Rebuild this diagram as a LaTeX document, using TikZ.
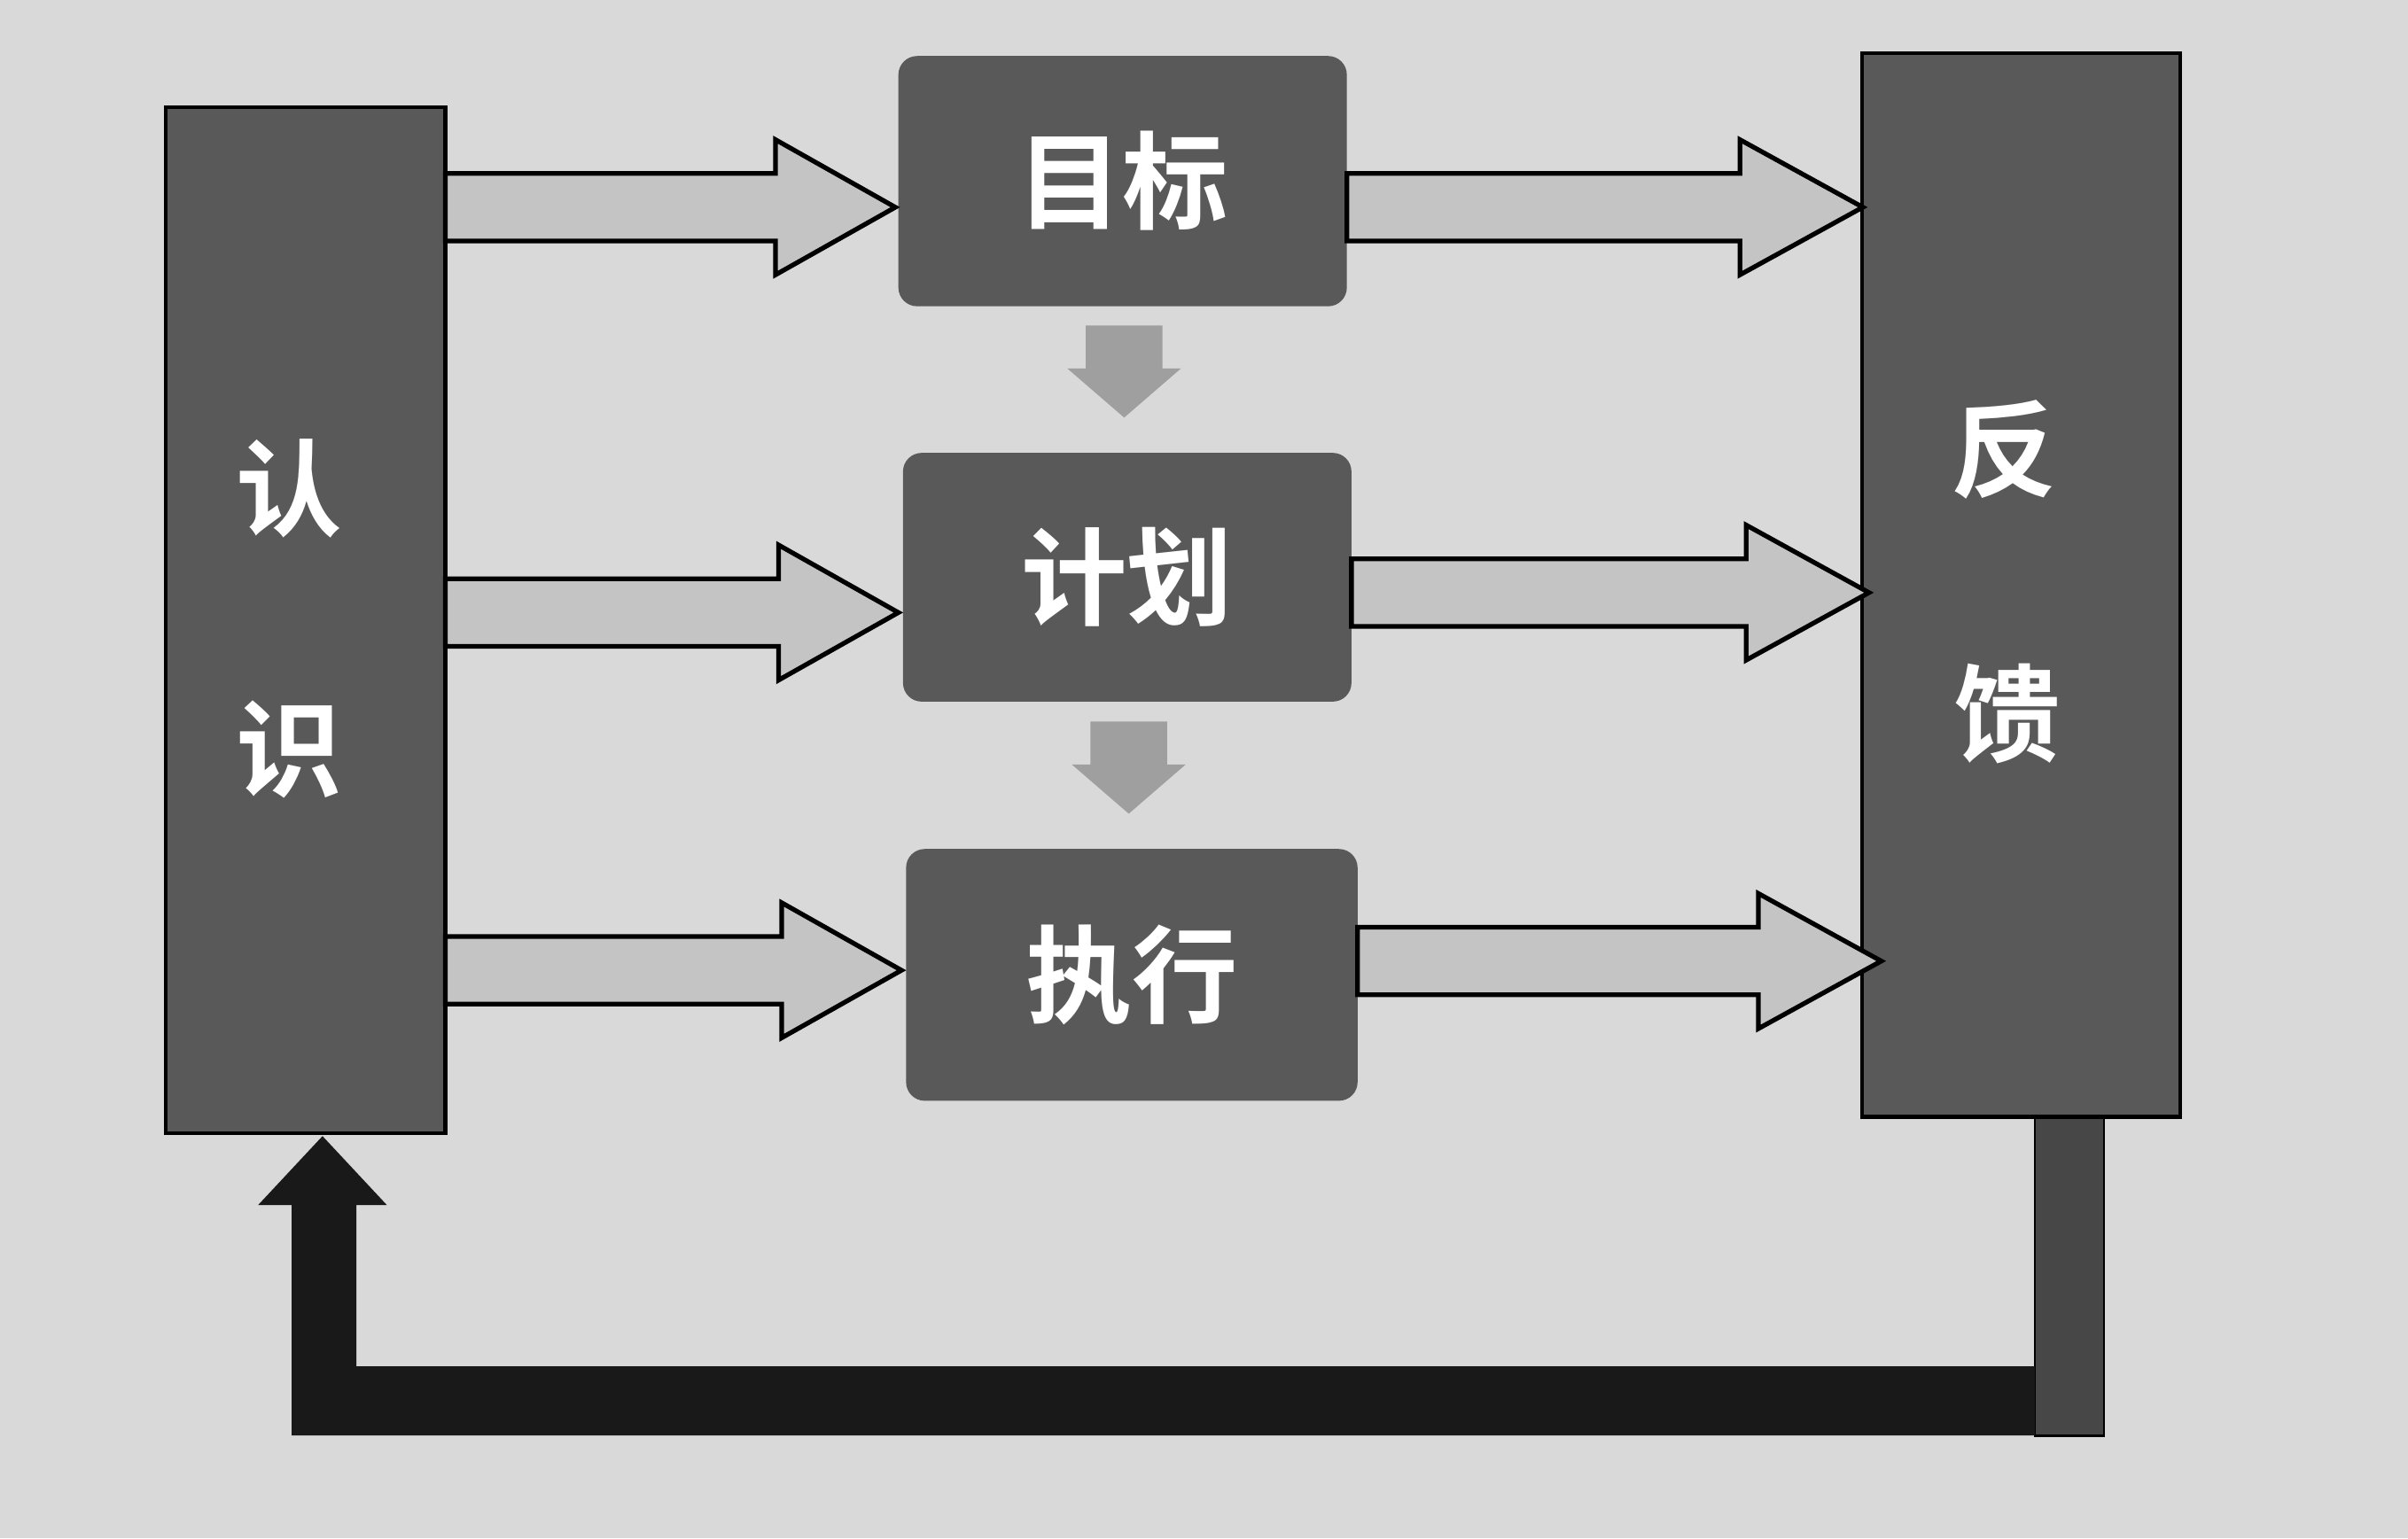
\documentclass[tikz,border=0pt]{standalone}
\usepackage{fontspec}
\newfontfamily\cjk{Noto Sans CJK SC}[BoldFont={Noto Sans CJK SC Bold}]
\begin{document}
\begin{tikzpicture}[x=0.017328cm,y=-0.017328cm,
  cjkf/.style={font=\cjk\bfseries\fontsize{34}{38}\selectfont},
  boxs/.style={draw=black,line width=1.2pt,fill=box,text=white,cjkf},
  sidetxt/.style={text=white,cjkf},
  arr/.style={draw=black,line width=1.5pt,fill=arrfill},
  darr/.style={fill=gray!75,draw=none}]
\definecolor{box}{HTML}{595959}
\definecolor{arrfill}{HTML}{C4C4C4}
\definecolor{bg}{HTML}{D9D9D9}
\fill[bg] (0,0) rectangle (1568,1002);
\useasboundingbox (0,0) rectangle (1568,1002);
% side boxes
\node[boxs,minimum width=182*0.017328cm,minimum height=668*0.017328cm] (rs) at (199,404) {};
\node[sidetxt] (rs1) at (188,318) {认};
\node[sidetxt] (rs2) at (188,488) {识};
\node[boxs,minimum width=207*0.017328cm,minimum height=693*0.017328cm] (fk) at (1316,381) {};
\node[sidetxt] (fk1) at (1305,293) {反};
\node[sidetxt] (fk2) at (1307,465) {馈};
% middle boxes
\node[boxs,rounded corners=6pt,draw=none,minimum width=292*0.017328cm,minimum height=163*0.017328cm] (mb) at (731,118) {目标};
\node[boxs,rounded corners=6pt,draw=none,minimum width=292*0.017328cm,minimum height=162*0.017328cm] (jh) at (734,376) {计划};
\node[boxs,rounded corners=6pt,draw=none,minimum width=294*0.017328cm,minimum height=164*0.017328cm] (zx) at (737,635) {执行};
% big arrows
\foreach \yc/\xa/\xb in {135/290/583, 399/290/585, 632/290/587}{
  \draw[arr] (\xa,\yc-22) -- (\xb-78,\yc-22) -- (\xb-78,\yc-44) -- (\xb,\yc) -- (\xb-78,\yc+44) -- (\xb-78,\yc+22) -- (\xa,\yc+22) -- cycle;}
\foreach \yc/\xa/\xb in {135/877/1213, 386/880/1217, 626/884/1225}{
  \draw[arr] (\xa,\yc-22) -- (\xb-80,\yc-22) -- (\xb-80,\yc-44) -- (\xb,\yc) -- (\xb-80,\yc+44) -- (\xb-80,\yc+22) -- (\xa,\yc+22) -- cycle;}
% small down arrows
\foreach \xc/\ya in {732/212, 735/470}{
  \fill[darr] (\xc-25,\ya) -- (\xc+25,\ya) -- (\xc+25,\ya+28) -- (\xc+37,\ya+28) -- (\xc,\ya+60) -- (\xc-37,\ya+28) -- (\xc-25,\ya+28) -- cycle;}
% feedback loop
\fill[box!80!black] (1325,728) rectangle (1370,935);
\draw[black,line width=0.8pt] (1325,728) rectangle (1370,935);
\fill[black!90] (1325,890) -- (1325,935) -- (190,935) -- (190,785) -- (168,785) -- (210,740) -- (252,785) -- (232,785) -- (232,890) -- cycle;
\end{tikzpicture}
\end{document}
